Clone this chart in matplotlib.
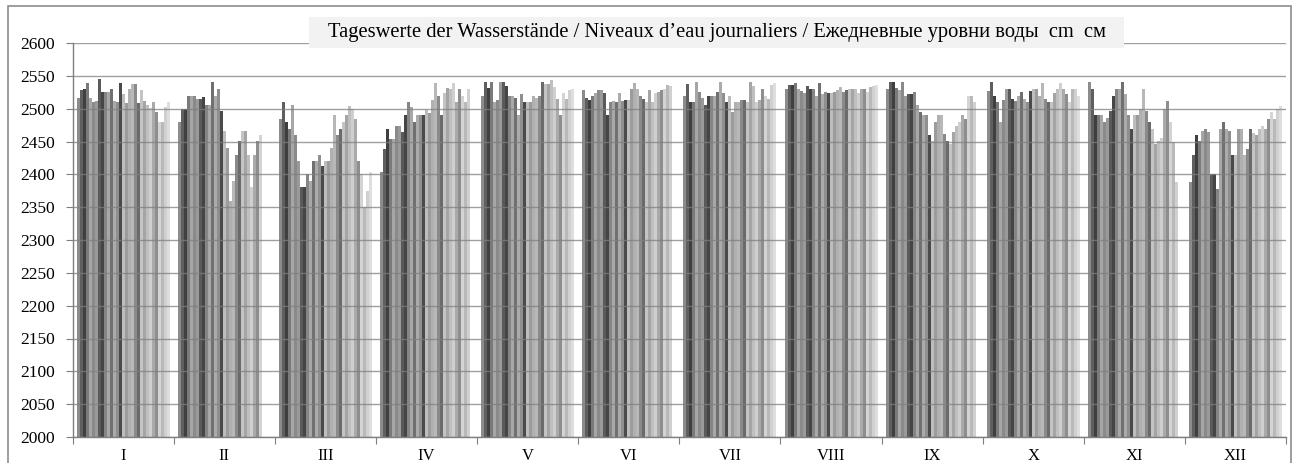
import numpy as np
import matplotlib
matplotlib.use("Agg")
import matplotlib.pyplot as plt
from matplotlib.patches import Rectangle

months = ["I", "II", "III", "IV", "V", "VI", "VII", "VIII", "IX", "X", "XI", "XII"]

jan = [2517, 2528, 2530, 2539, 2516, 2510, 2512, 2545, 2525, 2525, 2525, 2530, 2512, 2510, 2539, 2523,
       2509, 2530, 2538, 2538, 2508, 2528, 2512, 2506, 2501, 2510, 2495, 2480, 2480, 2503, 2510]
feb = [2480, 2500, 2500, 2520, 2520, 2520, 2514, 2514, 2518, 2506, 2506, 2540, 2520, 2530, 2496, 2466,
       2440, 2360, 2390, 2430, 2450, 2466, 2466, 2430, 2380, 2430, 2450, 2460]
mar = [2484, 2510, 2480, 2469, 2506, 2460, 2420, 2380, 2380, 2400, 2390, 2420, 2420, 2430, 2413, 2420,
       2420, 2440, 2490, 2460, 2469, 2480, 2490, 2504, 2500, 2484, 2420, 2400, 2350, 2374, 2404]
apr = [2404, 2439, 2469, 2454, 2454, 2474, 2474, 2464, 2490, 2510, 2503, 2480, 2490, 2490, 2490, 2498,
       2494, 2513, 2539, 2520, 2490, 2524, 2532, 2530, 2539, 2510, 2530, 2520, 2510, 2530]
may = [2519, 2540, 2531, 2540, 2510, 2513, 2540, 2540, 2535, 2519, 2519, 2517, 2490, 2522, 2510, 2510,
       2510, 2519, 2517, 2519, 2540, 2538, 2538, 2543, 2533, 2515, 2490, 2524, 2515, 2528, 2530]
jun = [2528, 2517, 2513, 2519, 2524, 2528, 2528, 2524, 2490, 2510, 2511, 2510, 2524, 2511, 2513, 2513,
       2530, 2539, 2530, 2519, 2515, 2510, 2528, 2510, 2524, 2526, 2528, 2530, 2536, 2535]
jul = [2519, 2537, 2510, 2510, 2540, 2526, 2517, 2505, 2519, 2519, 2519, 2525, 2540, 2524, 2510, 2519,
       2495, 2510, 2510, 2513, 2513, 2510, 2540, 2535, 2510, 2513, 2530, 2519, 2514, 2536, 2539]
aug = [2530, 2536, 2536, 2539, 2530, 2527, 2524, 2534, 2530, 2530, 2519, 2539, 2523, 2526, 2524, 2524,
       2526, 2528, 2533, 2526, 2528, 2530, 2530, 2530, 2524, 2530, 2530, 2526, 2533, 2535, 2536]
sep = [2530, 2540, 2540, 2532, 2528, 2540, 2519, 2522, 2522, 2525, 2505, 2495, 2490, 2490, 2460, 2450,
       2479, 2490, 2491, 2461, 2450, 2446, 2465, 2474, 2479, 2490, 2484, 2519, 2519, 2510]
oct_ = [2527, 2540, 2519, 2510, 2479, 2513, 2530, 2530, 2515, 2511, 2519, 2526, 2515, 2510, 2527, 2530,
        2530, 2519, 2539, 2515, 2510, 2510, 2524, 2530, 2539, 2530, 2523, 2510, 2530, 2530, 2519]
nov = [2540, 2530, 2490, 2490, 2491, 2479, 2486, 2496, 2519, 2530, 2530, 2540, 2522, 2490, 2469, 2490,
       2490, 2499, 2530, 2496, 2479, 2469, 2446, 2451, 2456, 2499, 2512, 2479, 2449, 2389]
dec = [2389, 2429, 2460, 2451, 2466, 2469, 2464, 2400, 2400, 2378, 2469, 2479, 2469, 2466, 2429, 2429,
       2469, 2469, 2429, 2439, 2469, 2463, 2460, 2469, 2474, 2469, 2485, 2495, 2485, 2500, 2504]

monthly = [jan, feb, mar, apr, may, jun, jul, aug, sep, oct_, nov, dec]

day_colors = ["#8c8c8c", "#5f5f5f", "#3f3f3f", "#7a7a7a", "#a6a6a6", "#8a8a8a",
              "#9a9a9a", "#5a5a5a", "#454545", "#858585", "#a8a8a8", "#707070",
              "#ababab", "#8f8f8f", "#4a4a4a", "#bdbdbd", "#9c9c9c", "#b0b0b0",
              "#b8b8b8", "#8a8a8a", "#6a6a6a", "#c4c4c4", "#a5a5a5", "#bfbfbf",
              "#cfcfcf", "#aaaaaa", "#8e8e8e", "#d4d4d4", "#b9b9b9", "#d0d0d0", "#dedede"]

title = "Tageswerte der Wasserstände / Niveaux d\u2019eau journaliers / Ежедневные уровни воды  cm  см"

W, H = 1298, 463
fig = plt.figure(figsize=(W / 100, H / 100), dpi=100)
fig.patch.set_facecolor("white")
ax = fig.add_axes([72.7 / W, 1 - 437 / H, (1286 - 72.7) / W, (437 - 43) / H])

plt.rcParams["font.family"] = ["Liberation Serif", "DejaVu Serif"]

ndays = 31
group = 0.92
bw = group / ndays
for d in range(ndays):
    xs, hs = [], []
    for m, vals in enumerate(monthly):
        if d < len(vals):
            xs.append(m + 0.5 + (d - (ndays - 1) / 2) * bw)
            hs.append(vals[d] - 2000)
    ax.bar(xs, hs, width=bw, bottom=2000, color=day_colors[d], linewidth=0, zorder=2)

ax.set_xlim(0, 12)
ax.set_ylim(2000, 2600)
ax.set_yticks(np.arange(2000, 2601, 50))
ax.yaxis.grid(True, color="#7f7f7f", linewidth=1.0, alpha=0.75, zorder=3)
ax.set_axisbelow(False)

ax.set_xticks(np.arange(0, 13))
ax.set_xticklabels([])
ax.set_xticks(np.arange(12) + 0.5, minor=True)
ax.set_xticklabels(months, minor=True, fontfamily=["Liberation Serif"], fontsize=12)
ax.tick_params(axis="x", which="major", length=5, color="#7f7f7f", direction="out")
ax.tick_params(axis="x", which="minor", length=0, pad=8)
ax.tick_params(axis="y", length=5, color="#7f7f7f", pad=8, labelsize=12.5)
for lbl in ax.get_yticklabels():
    lbl.set_fontfamily(["Liberation Serif"])

for s in ["top", "right"]:
    ax.spines[s].set_visible(False)
for s in ["left", "bottom"]:
    ax.spines[s].set_color("#7f7f7f")
    ax.spines[s].set_linewidth(1.0)
    ax.spines[s].set_zorder(4)

# outer chart border
fig.patches.append(Rectangle((8 / W, -0.05), (1291 - 8) / W, 1 - 6 / H + 0.05,
                             transform=fig.transFigure, facecolor="none",
                             edgecolor="#8c8c8c", linewidth=1.2, zorder=1))
# title box
fig.patches.append(Rectangle((309 / W, 1 - 48 / H), (1124 - 309) / W, 31 / H,
                             transform=fig.transFigure, facecolor="#f2f2f2",
                             edgecolor="none", zorder=2))
fig.text(717 / W, 1 - 32.5 / H, title, ha="center", va="center", fontsize=14.8,
         family=["Liberation Serif", "DejaVu Serif"], zorder=3)

fig.savefig("out.png", dpi=100)
